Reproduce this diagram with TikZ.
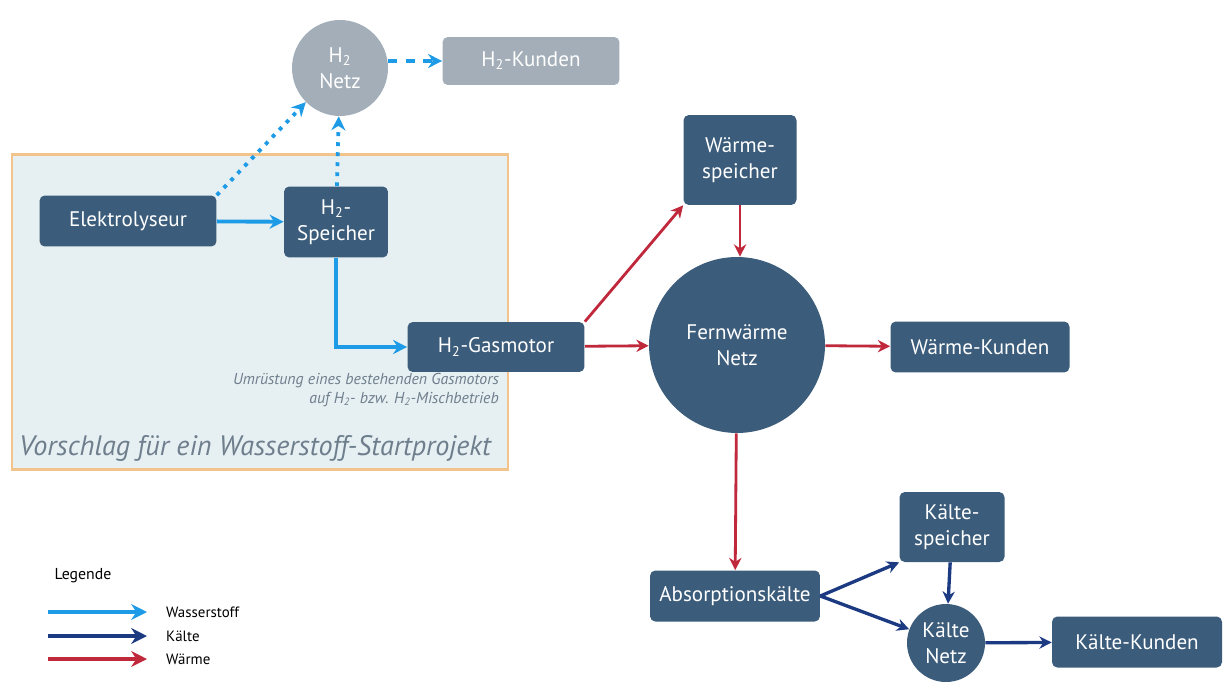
\documentclass[tikz,border=0pt]{standalone}
\usepackage{fontspec}
\setmainfont{PT Sans}
\usepackage{xcolor}
\usepackage{tikz}
\usetikzlibrary{positioning,arrows.meta}

\definecolor{boxblue}{HTML}{3B5C7A}
\definecolor{netgray}{HTML}{A3AEB8}
\definecolor{projfill}{HTML}{E6EFF2}
\definecolor{projline}{HTML}{F3C38C}
\definecolor{hydro}{HTML}{1E9BE6}
\definecolor{cold}{HTML}{1B3A82}
\definecolor{heat}{HTML}{C0283C}
\definecolor{notegray}{HTML}{6E7E8C}

\tikzset{
  unit/.style={rectangle, rounded corners=3pt, fill=boxblue, text=white, align=center,
    font=\fontsize{12}{15}\selectfont, inner sep=2pt},
  netz/.style={circle, fill=boxblue, text=white, align=center, font=\fontsize{12}{15}\selectfont, inner sep=1pt},
  h2line/.style={draw=hydro, line width=2.2pt, -{Stealth[length=8pt,width=8pt]}},
  h2dots/.style={draw=hydro, line width=2.2pt, dash pattern=on 2.2pt off 3.5pt, -{Stealth[length=8pt,width=8pt]}},
  h2dash/.style={draw=hydro, line width=2.2pt, dash pattern=on 5pt off 5pt, -{Stealth[length=8pt,width=8pt]}},
  heatline/.style={draw=heat, line width=1.6pt, -{Stealth[length=7pt,width=7pt]}},
  coldline/.style={draw=cold, line width=1.9pt, -{Stealth[length=7pt,width=7pt]}},
  legline/.style={line width=2.2pt, -{Stealth[length=9pt,width=9pt]}},
}

\begin{document}
\begin{tikzpicture}[x=0.02cm, y=-0.02cm]
    \useasboundingbox (0,0) rectangle (1229,682);
    % project area
    \node at (260,312)[rectangle, minimum width=9.92cm, minimum height=6.3cm, fill=projfill, draw=projline, line width=1.6pt](proj){};
    \node at (255,448)[font=\fontsize{16}{19}\selectfont\itshape, text=notegray](projtitle){Vorschlag für ein Wasserstoff-Startprojekt};
    \node at (505,390)[anchor=east, align=right, font=\fontsize{9}{11}\selectfont\itshape, text=notegray](note){Umrüstung eines bestehenden Gasmotors\\auf H\textsubscript{2}- bzw. H\textsubscript{2}-Mischbetrieb};

    % hydrogen
    \node at (340,68)[netz, fill=netgray, minimum size=1.92cm](h2netz){H\textsubscript{2}\\Netz};
    \node at (531,61)[unit, fill=netgray, minimum width=3.54cm, minimum height=0.96cm](h2kunden){H\textsubscript{2}-Kunden};
    \node at (128,221)[unit, minimum width=3.54cm, minimum height=1.02cm](elektro){Elektrolyseur};
    \node at (336,222)[unit, minimum width=2.08cm, minimum height=1.42cm](h2speicher){H\textsubscript{2}-\\Speicher};
    \node at (496,347)[unit, minimum width=3.54cm, minimum height=1.0cm](gasmotor){H\textsubscript{2}-Gasmotor};

    % heat
    \node at (740,160)[unit, minimum width=2.26cm, minimum height=1.8cm](wspeicher){Wärme-\\speicher};
    \node at (737,345)[netz, minimum size=3.52cm](fernwaerme){Fernwärme\\Netz};
    \node at (980,347)[unit, minimum width=3.58cm, minimum height=1.02cm](wkunden){Wärme-Kunden};

    % cold
    \node at (735,596)[unit, minimum width=3.4cm, minimum height=1.02cm](absorption){Absorptionskälte};
    \node at (952,527)[unit, minimum width=2.1cm, minimum height=1.4cm](kspeicher){Kälte-\\speicher};
    \node at (946,643)[netz, minimum size=1.56cm](knetz){Kälte\\Netz};
    \node at (1137,642)[unit, minimum width=3.4cm, minimum height=1.02cm](kkunden){Kälte-Kunden};

    % legend
    \node at (83,576)[font=\fontsize{9}{11}\selectfont](legende){Legende};
    \node at (160,612)[anchor=west, font=\fontsize{8.5}{10}\selectfont](lwasser){Wasserstoff};
    \node at (160,636)[anchor=west, font=\fontsize{8.5}{10}\selectfont](lkaelte){Kälte};
    \node at (160,659)[anchor=west, font=\fontsize{8.5}{10}\selectfont](lwaerme){Wärme};
    \coordinate (lw0) at (48,612);
    \coordinate (lk0) at (48,636);
    \coordinate (lh0) at (48,659);
    \draw[legline, hydro] (lw0) -- (lwasser.west -| 147,0);
    \draw[legline, cold] (lk0) -- (lkaelte.west -| 147,0);
    \draw[legline, heat] (lh0) -- (lwaerme.west -| 147,0);

    % hydrogen connectors
    \draw[h2line] (elektro) -- (h2speicher);
    \draw[h2dots] (elektro.north east) -- (h2netz.south west);
    \draw[h2dots] (h2speicher) -- (h2netz);
    \draw[h2dash] (h2netz.east |- h2kunden.west) -- (h2kunden.west);
    \draw[h2line] (h2speicher.south) |- (gasmotor.west);

    % heat connectors
    \draw[heatline] (gasmotor) -- (fernwaerme);
    \draw[heatline] (gasmotor.north east) -- (wspeicher.south west);
    \draw[heatline] (wspeicher) -- (wspeicher |- fernwaerme.north);
    \draw[heatline] (fernwaerme) -- (wkunden);
    \draw[heatline] (fernwaerme) -- (absorption);

    % cold connectors
    \draw[coldline] (absorption.east) -- (kspeicher.south west);
    \draw[coldline] (absorption.east) -- (knetz);
    \draw[coldline] (kspeicher) -- (knetz);
    \draw[coldline] (knetz) -- (kkunden);
\end{tikzpicture}
\end{document}
